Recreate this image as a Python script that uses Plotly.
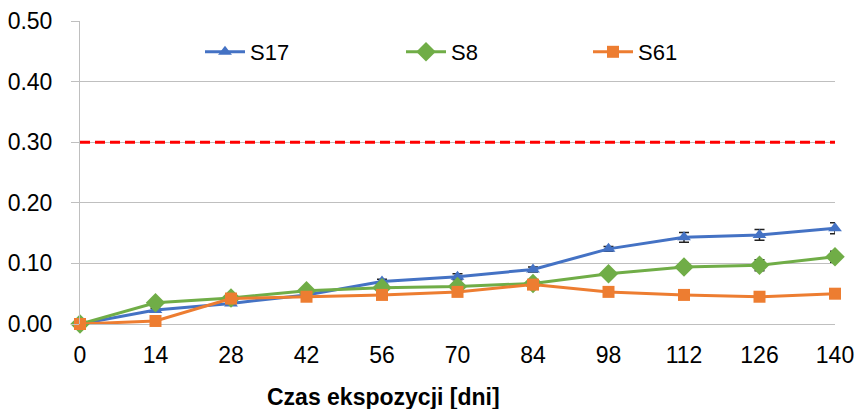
import plotly.graph_objects as go

days = [0, 14, 28, 42, 56, 70, 84, 98, 112, 126, 140]
s17 = [0.000, 0.023, 0.034, 0.048, 0.070, 0.078, 0.090, 0.124, 0.143, 0.147, 0.158]
s17_err = [0.002, 0.003, 0.003, 0.003, 0.004, 0.005, 0.004, 0.004, 0.008, 0.009, 0.009]
s8 = [0.000, 0.035, 0.043, 0.055, 0.060, 0.062, 0.067, 0.083, 0.094, 0.097, 0.111]
s8_err = [0.002, 0.003, 0.003, 0.003, 0.003, 0.003, 0.003, 0.004, 0.005, 0.009, 0.009]
s61 = [0.000, 0.005, 0.042, 0.045, 0.048, 0.053, 0.065, 0.053, 0.048, 0.045, 0.050]
limit_x = [0, 140]
limit_y = [0.30, 0.30]
y_ticks = [0, 0.1, 0.2, 0.3, 0.4, 0.5]
y_ticktext = ["0.00", "0.10", "0.20", "0.30", "0.40", "0.50"]

fig = go.Figure()
fig.add_trace(go.Scatter(x=limit_x, y=limit_y, mode="lines", showlegend=False,
                         line=dict(color="#FF0000", width=3, dash="10px,5px")))
fig.add_trace(go.Scatter(x=days, y=s17, name="S17", mode="lines+markers", legend="legend",
                         cliponaxis=False,
                         line=dict(color="#4472C4", width=3),
                         marker=dict(symbol="triangle-up", size=12, color="#4472C4"),
                         error_y=dict(type="data", array=s17_err, color="#222222", thickness=1.5, width=5)))
fig.add_trace(go.Scatter(x=days, y=s8, name="S8", mode="lines+markers", legend="legend2",
                         cliponaxis=False,
                         line=dict(color="#70AD47", width=3),
                         marker=dict(symbol="diamond", size=15, color="#70AD47"),
                         error_y=dict(type="data", array=s8_err, color="#222222", thickness=1.5, width=5)))
fig.add_trace(go.Scatter(x=days, y=s61, name="S61", mode="lines+markers", legend="legend3",
                         cliponaxis=False,
                         line=dict(color="#ED7D31", width=3),
                         marker=dict(symbol="square", size=12, color="#ED7D31")))

PL, PR, PT, PB = 80, 835, 21, 324
pw, ph = PR - PL, PB - PT
leg_common = dict(orientation="h", yref="paper", xref="paper", y=(PB - 52) / ph,
                  yanchor="middle", xanchor="left", bgcolor="rgba(0,0,0,0)",
                  font=dict(size=22), itemwidth=40)

fig.update_layout(
    width=860, height=409,
    margin=dict(l=PL, r=860 - PR, t=PT, b=409 - PB, autoexpand=False),
    paper_bgcolor="white", plot_bgcolor="white",
    font=dict(family="Liberation Sans, Arial, sans-serif", size=23, color="#000000"),
    legend=dict(x=(200 - PL) / pw, **leg_common),
    legend2=dict(x=(401 - PL) / pw, **leg_common),
    legend3=dict(x=(588 - PL) / pw, **leg_common),
    xaxis=dict(range=[0, 140], tickvals=days, ticktext=[str(d) for d in days],
               showgrid=False, zeroline=False, showline=False, ticks="",
               ticklabelstandoff=15, automargin=False),
    yaxis=dict(range=[0, 0.5], tickvals=y_ticks, ticktext=y_ticktext,
               showgrid=True, gridcolor="#BFBFBF", gridwidth=1,
               zeroline=True, zerolinecolor="#BFBFBF", zerolinewidth=1,
               showline=True, linecolor="#BFBFBF", linewidth=1,
               ticks="outside", ticklen=8, tickcolor="#BFBFBF", tickwidth=1,
               ticklabelstandoff=14, automargin=False),
    annotations=[dict(text="<b>Czas ekspozycji [dni]</b>", xref="paper", yref="paper",
                      x=(383 - PL) / pw, y=(PB - 397) / ph, xanchor="center", yanchor="middle",
                      showarrow=False, font=dict(size=23))],
)
fig.write_html("out.html", config={"displayModeBar": False},
               post_script="document.body.style.margin='0';document.body.style.overflow='hidden';")
